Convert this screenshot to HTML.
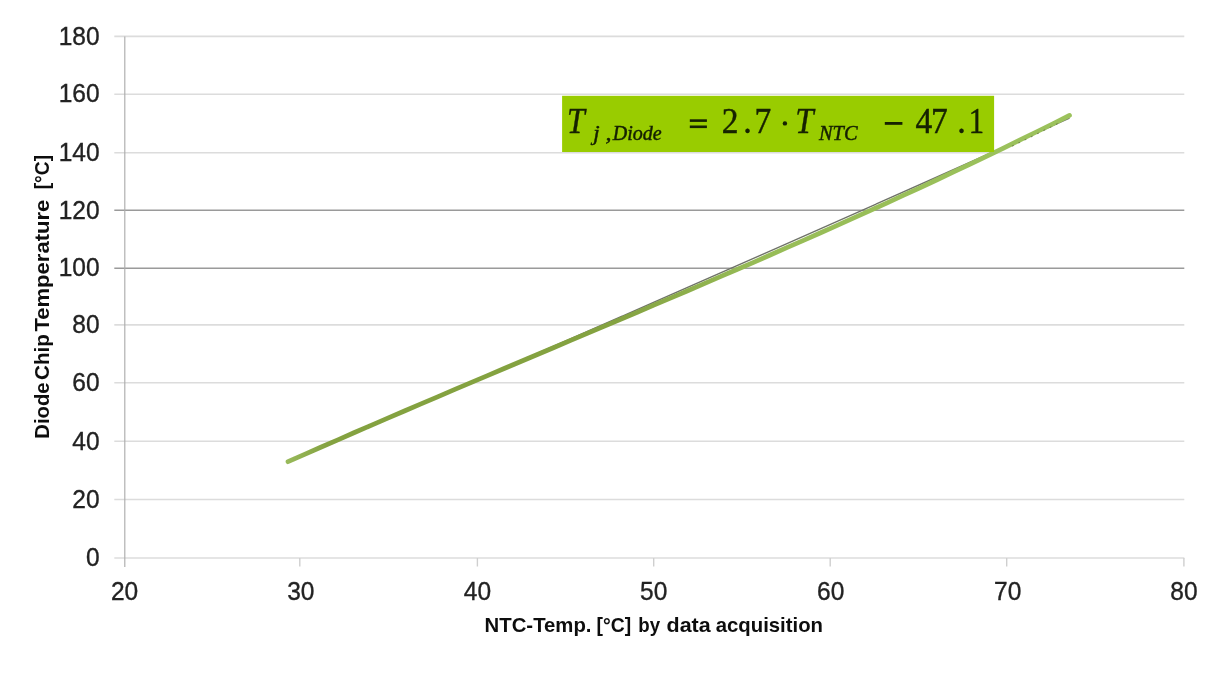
<!DOCTYPE html>
<html><head><meta charset="utf-8"><title>Chart</title>
<style>
html,body{margin:0;padding:0;background:#fff;}
body{width:1227px;height:679px;overflow:hidden;}
svg{display:block;}
text{font-family:"Liberation Sans",sans-serif;}
.ser text{font-family:"Liberation Serif",serif;}
</style></head><body>
<svg width="1227" height="679" viewBox="0 0 1227 679">
<rect width="1227" height="679" fill="#ffffff"/>
<defs><filter id="soft" x="0" y="0" width="1227" height="679" filterUnits="userSpaceOnUse"><feGaussianBlur stdDeviation="0.7"/></filter></defs>
<g filter="url(#soft)">
<g id="grid">
<line x1="114.3" x2="1184.3" y1="558.0" y2="558.0" stroke="#dcdcdc" stroke-width="1.6"/>
<line x1="114.3" x2="1184.3" y1="499.5" y2="499.5" stroke="#dcdcdc" stroke-width="1.6"/>
<line x1="114.3" x2="1184.3" y1="441.3" y2="441.3" stroke="#dcdcdc" stroke-width="1.6"/>
<line x1="114.3" x2="1184.3" y1="382.8" y2="382.8" stroke="#dcdcdc" stroke-width="1.6"/>
<line x1="114.3" x2="1184.3" y1="324.9" y2="324.9" stroke="#dcdcdc" stroke-width="1.6"/>
<line x1="114.3" x2="1184.3" y1="268.2" y2="268.2" stroke="#9a9a9a" stroke-width="1.6"/>
<line x1="114.3" x2="1184.3" y1="210.3" y2="210.3" stroke="#9a9a9a" stroke-width="1.6"/>
<line x1="114.3" x2="1184.3" y1="152.8" y2="152.8" stroke="#dcdcdc" stroke-width="1.6"/>
<line x1="114.3" x2="1184.3" y1="94.2" y2="94.2" stroke="#dcdcdc" stroke-width="1.6"/>
<line x1="114.3" x2="1184.3" y1="36.4" y2="36.4" stroke="#dcdcdc" stroke-width="1.6"/>
<line x1="124.8" x2="124.8" y1="36.4" y2="567.0" stroke="#adadad" stroke-width="1.15"/>
<line x1="299.8" x2="299.8" y1="558.0" y2="566.5" stroke="#cfcfcf" stroke-width="1.4"/>
<line x1="477.4" x2="477.4" y1="558.0" y2="566.5" stroke="#cfcfcf" stroke-width="1.4"/>
<line x1="653.7" x2="653.7" y1="558.0" y2="566.5" stroke="#cfcfcf" stroke-width="1.4"/>
<line x1="830.2" x2="830.2" y1="558.0" y2="566.5" stroke="#cfcfcf" stroke-width="1.4"/>
<line x1="1006.7" x2="1006.7" y1="558.0" y2="566.5" stroke="#cfcfcf" stroke-width="1.4"/>
<line x1="1183.9" x2="1183.9" y1="558.0" y2="566.5" stroke="#cfcfcf" stroke-width="1.4"/>
</g>
<g id="ylabels" font-size="25" fill="#222" stroke="#222" stroke-width="0.35" text-anchor="end">
<text transform="translate(99.6,566.2) scale(0.98,1)">0</text>
<text transform="translate(99.6,507.7) scale(0.98,1)">20</text>
<text transform="translate(99.6,449.5) scale(0.98,1)">40</text>
<text transform="translate(99.6,391.0) scale(0.98,1)">60</text>
<text transform="translate(99.6,333.1) scale(0.98,1)">80</text>
<text transform="translate(99.6,276.4) scale(0.98,1)">100</text>
<text transform="translate(99.6,218.5) scale(0.98,1)">120</text>
<text transform="translate(99.6,161.0) scale(0.98,1)">140</text>
<text transform="translate(99.6,102.4) scale(0.98,1)">160</text>
<text transform="translate(99.6,44.6) scale(0.98,1)">180</text>
</g>
<g id="xlabels" font-size="25" fill="#222" stroke="#222" stroke-width="0.35" text-anchor="middle">
<text transform="translate(124.6,600.3) scale(0.98,1)">20</text>
<text transform="translate(300.8,600.3) scale(0.98,1)">30</text>
<text transform="translate(477.4,600.3) scale(0.98,1)">40</text>
<text transform="translate(653.7,600.3) scale(0.98,1)">50</text>
<text transform="translate(830.7,600.3) scale(0.98,1)">60</text>
<text transform="translate(1007.7,600.3) scale(0.98,1)">70</text>
<text transform="translate(1183.9,600.3) scale(0.98,1)">80</text>
</g>
<g id="xtitle" font-size="21" font-weight="bold" fill="#0d0d0d">
<text x="484.6" y="632.3" textLength="106.9" lengthAdjust="spacingAndGlyphs">NTC-Temp.</text>
<text x="596.5" y="632.3" textLength="34.6" lengthAdjust="spacingAndGlyphs">[°C]</text>
<text x="638.3" y="632.3" textLength="21.8" lengthAdjust="spacingAndGlyphs">by</text>
<text x="666.6" y="632.3" textLength="44.1" lengthAdjust="spacingAndGlyphs">data</text>
<text x="715.7" y="632.3" textLength="107.3" lengthAdjust="spacingAndGlyphs">acquisition</text>
</g>
<g id="ytitle" font-size="21" font-weight="bold" fill="#0d0d0d" transform="translate(49.2,438) rotate(-90)">
<text x="-0.7" y="0" textLength="56.3" lengthAdjust="spacingAndGlyphs">Diode</text>
<text x="58.0" y="0" textLength="45.8" lengthAdjust="spacingAndGlyphs">Chip</text>
<text x="106.4" y="0" textLength="132.0" lengthAdjust="spacingAndGlyphs">Temperature</text>
<text x="248.7" y="0" textLength="34.4" lengthAdjust="spacingAndGlyphs">[°C]</text>
</g>
<defs><linearGradient id="lg" gradientUnits="userSpaceOnUse" x1="288" y1="0" x2="1070" y2="0"><stop offset="0" stop-color="#98b95a"/><stop offset="0.05" stop-color="#84a241"/><stop offset="0.42" stop-color="#84a241"/><stop offset="0.6" stop-color="#97bc57"/><stop offset="1" stop-color="#9cc25c"/></linearGradient></defs>
<path id="trend" d="M288 462.3 Q678.75 292.4 1069.5 118" fill="none" stroke="#6f7368" stroke-width="1.4"/>
<path id="curve" d="M288.0 461.7 L304.6 454.3 L321.3 447.0 L337.9 439.8 L354.5 432.5 L371.1 425.3 L387.8 418.1 L404.4 411.0 L421.0 403.9 L437.6 396.8 L454.3 389.7 L470.9 382.6 L487.5 375.6 L504.2 368.5 L520.8 361.5 L537.4 354.5 L554.0 347.5 L570.7 340.4 L587.3 333.4 L603.9 326.4 L620.6 319.3 L637.2 312.3 L653.8 305.2 L670.4 298.1 L687.1 291.0 L703.7 283.9 L720.3 276.7 L736.9 269.5 L753.6 262.3 L770.2 255.0 L786.8 247.7 L803.5 240.4 L820.1 233.0 L836.7 225.6 L853.3 218.2 L870.0 210.6 L886.6 203.1 L903.2 195.4 L919.9 187.8 L936.5 180.0 L953.1 172.2 L969.7 164.3 L986.4 156.4 L1003.0 148.3 L1019.6 140.2 L1036.2 132.0 L1052.9 123.8 L1069.5 115.4" fill="none" stroke="url(#lg)" stroke-width="4.7" stroke-linecap="round" stroke-linejoin="round"/>
<path d="M1012.0 146.2 L1019.1 142.7 L1026.3 139.2 L1033.4 135.6 L1040.6 132.1 L1047.7 128.6 L1054.9 125.0 L1062.0 121.4" fill="none" stroke="#4f5a35" stroke-width="1.1" stroke-opacity="0.55" stroke-dasharray="2 5"/>
<rect id="box" x="562.1" y="95.8" width="432" height="56.2" fill="#99cc00"/>
<g class="ser" fill="#142000" stroke="#142000" stroke-width="0.45">
<text transform="translate(567.0,132.7) scale(0.885,1)" font-size="36" font-style="italic">T</text>
<text transform="translate(593.2,140.3) scale(1.15,1)" font-size="20" font-style="italic">j</text>
<text transform="translate(605.5,140.3) scale(1.2,1)" font-size="20" font-style="italic">,</text>
<text transform="translate(612.8,140.3) scale(1.0,1)" font-size="20" font-style="italic">Diode</text>
<text transform="translate(721.7,132.7) scale(0.93,1)" font-size="36">2</text>
<text transform="translate(743.3,132.7) scale(0.95,1)" font-size="36">.</text>
<text transform="translate(754.4,132.7) scale(0.93,1)" font-size="36">7</text>
<text transform="translate(795.3,132.7) scale(0.91,1)" font-size="36" font-style="italic">T</text>
<text transform="translate(819.0,140.3) scale(1.02,1)" font-size="20" font-style="italic">NTC</text>
<text transform="translate(915.5,132.7) scale(0.93,1)" font-size="36">4</text>
<text transform="translate(931,132.7) scale(0.93,1)" font-size="36">7</text>
<text transform="translate(957.3,132.7) scale(0.95,1)" font-size="36">.</text>
<text transform="translate(968.8,132.7) scale(0.85,1)" font-size="36">1</text>
</g>
<g id="ops" fill="#142000"><rect x="689.8" y="119.3" width="17.1" height="2.6"/><rect x="689.8" y="125.5" width="17.1" height="2.6"/><circle cx="784.9" cy="123.4" r="2.2"/><rect x="884.8" y="122" width="17.6" height="2.8"/></g>
</g>
</svg></body></html>
